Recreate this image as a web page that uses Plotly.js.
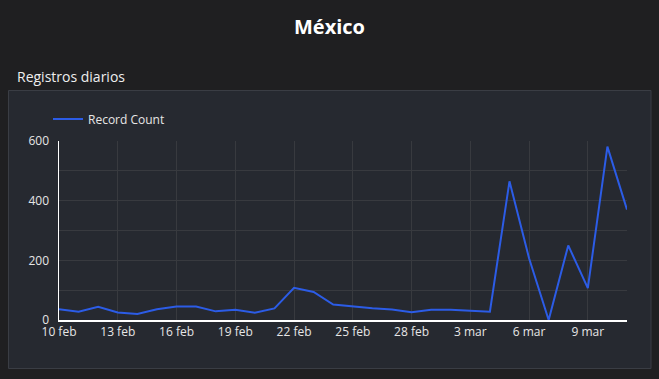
<!DOCTYPE html>
<html><head><meta charset="utf-8">
<script src="https://cdn.plot.ly/plotly-3.0.1.min.js"></script>
<style>html,body{margin:0;padding:0;background:#1f1f21;}#chart{width:659px;height:379px;}</style>
</head><body><div id="chart"></div>
<script>
const dates = ['2023-02-10','2023-02-11','2023-02-12','2023-02-13','2023-02-14','2023-02-15','2023-02-16','2023-02-17','2023-02-18','2023-02-19','2023-02-20','2023-02-21','2023-02-22','2023-02-23','2023-02-24','2023-02-25','2023-02-26','2023-02-27','2023-02-28','2023-03-01','2023-03-02','2023-03-03','2023-03-04','2023-03-05','2023-03-06','2023-03-07','2023-03-08','2023-03-09','2023-03-10','2023-03-11'];
const recordCount = [36,28,44,25,20,36,45,45,29,34,24,39,108,94,52,45,39,35,26,34,34,31,28,465,207,0,250,107,581,370];
const xTickVals = ['2023-02-10','2023-02-13','2023-02-16','2023-02-19','2023-02-22','2023-02-25','2023-02-28','2023-03-03','2023-03-06','2023-03-09'];
const xTickText = ['10 feb','13 feb','16 feb','19 feb','22 feb','25 feb','28 feb','3 mar','6 mar','9 mar'];
const yTickVals = [0,200,400,600];
const yTickText = ['0','200','400','600'];

const W = 659, H = 379, L = 59, R = 32, T = 141, B = 59;
const pw = W - L - R, ph = H - T - B;
const px = v => (v - L) / pw;
const py = v => (H - B - v) / ph;

const trace = {
  x: dates, y: recordCount, type: 'scatter', mode: 'lines', name: 'Record Count',
  line: {color: '#2c5ce6', width: 2}
};
const layout = {
  width: W, height: H,
  margin: {l: L, r: R, t: T, b: B},
  paper_bgcolor: '#1f1f21', plot_bgcolor: 'rgba(0,0,0,0)',
  font: {family: 'Open Sans, sans-serif', color: '#e6e6e6', size: 12},
  title: {text: '<b>México</b>', x: 0.5, xref: 'container', xanchor: 'center', y: 1 - 27/H, yanchor: 'middle',
          font: {family: 'Open Sans, sans-serif', size: 20, color: '#ffffff'}},
  showlegend: true,
  legend: {orientation: 'h', x: px(48), xanchor: 'left', y: py(119), yanchor: 'middle',
           bgcolor: 'rgba(0,0,0,0)', font: {size: 12, color: '#e6e6e6'}, itemwidth: 30},
  xaxis: {type: 'date', range: ['2023-02-10', '2023-03-11'], tickvals: xTickVals, ticktext: xTickText,
          showgrid: true, gridcolor: '#383a3f', gridwidth: 1, zeroline: false,
          showline: true, linecolor: '#ffffff', linewidth: 1.5, ticks: '', fixedrange: true,
          tickfont: {size: 12, color: '#e6e6e6'}},
  yaxis: {range: [0, 600], tickvals: yTickVals, ticktext: yTickText,
          showgrid: true, gridcolor: '#383a3f', gridwidth: 1, zeroline: false,
          minor: {tickvals: [100, 300, 500], showgrid: true, gridcolor: '#383a3f', gridwidth: 1},
          showline: true, linecolor: '#ffffff', linewidth: 1.5, ticks: '', ticklabelstandoff: 6,
          fixedrange: true, tickfont: {size: 12, color: '#e6e6e6'}},
  shapes: [{type: 'rect', xref: 'paper', yref: 'paper', layer: 'below',
            x0: px(8.5), x1: px(651), y0: py(368.5), y1: py(90.5),
            fillcolor: '#262930', line: {color: '#3a3d44', width: 1}}],
  annotations: [{text: 'Registros diarios', xref: 'paper', yref: 'paper', x: px(15), y: py(76),
                 xanchor: 'left', yanchor: 'middle', showarrow: false,
                 font: {family: 'Open Sans, sans-serif', size: 14, color: '#eeeeee'}}]
};
Plotly.newPlot('chart', [trace], layout, {displayModeBar: false, staticPlot: true});
</script></body></html>
